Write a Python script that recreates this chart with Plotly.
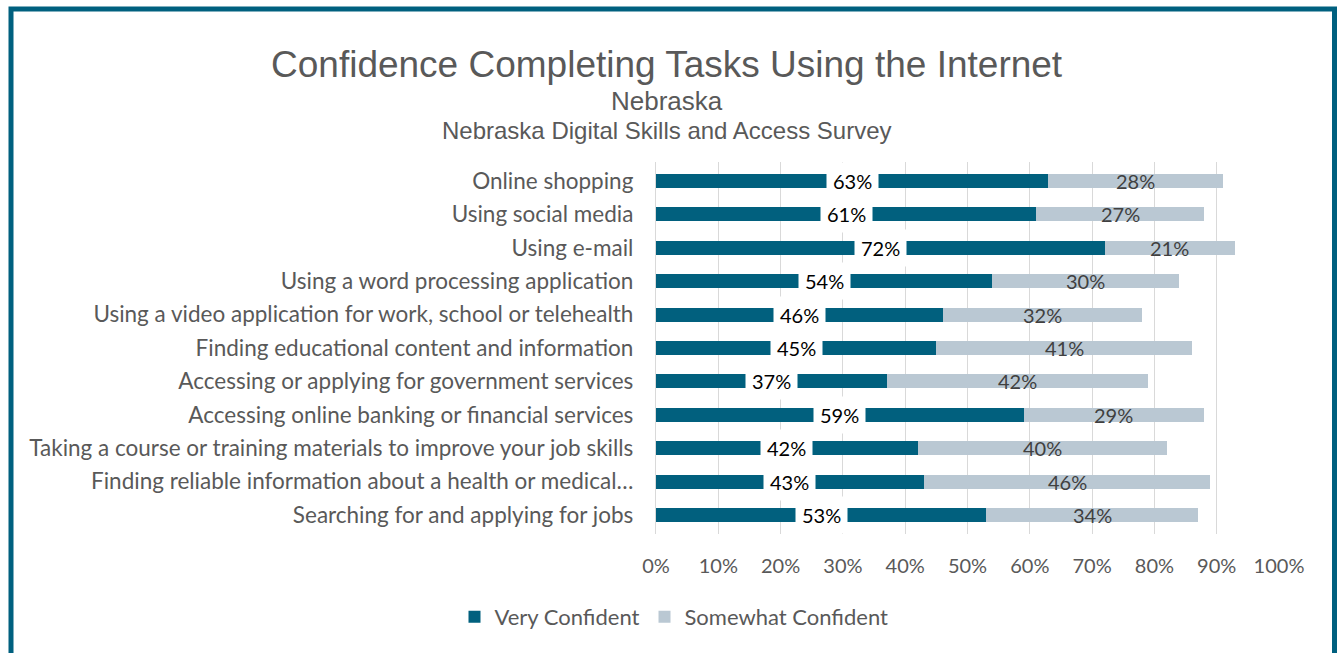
import plotly.graph_objects as go

categories = [
    "Online shopping",
    "Using social media",
    "Using e-mail",
    "Using a word processing application",
    "Using a video application for work, school or telehealth",
    "Finding educational content and information",
    "Accessing or applying for government services",
    "Accessing online banking or financial services",
    "Taking a course or training materials to improve your job skills",
    "Finding reliable information about a health or medical…",
    "Searching for and applying for jobs",
]
very_confident = [63, 61, 72, 54, 46, 45, 37, 59, 42, 43, 53]
somewhat_confident = [28, 27, 21, 30, 32, 41, 42, 29, 40, 46, 34]
x_ticks = [0, 10, 20, 30, 40, 50, 60, 70, 80, 90, 100]
x_tick_labels = [f"{t}%" for t in x_ticks]

W, H = 1342, 653
# pixel positions of plot area
PL, PR, PT, PB = 656, 1279, 162, 534
ML, MR, MT, MB = PL, W - PR, PT, H - PB
PW, PH = PR - PL, PB - PT

def px(xp):
    return (xp - PL) / PW

def py(yp):
    return (PB - yp) / PH

DARK = "#01607E"
LIGHT = "#BAC8D3"
GRAY = "#595959"
LBL_FONT = "Lato, Carlito, Calibri, sans-serif"
TITLE_FONT = "Liberation Sans, Arial, sans-serif"

fig = go.Figure()
fig.add_trace(go.Bar(
    y=categories, x=very_confident, orientation="h", name="Very Confident",
    marker=dict(color=DARK, line=dict(width=0)),
))
fig.add_trace(go.Bar(
    y=categories, x=somewhat_confident, orientation="h", name="Somewhat Confident",
    marker=dict(color=LIGHT, line=dict(width=0)),
))

annotations = []
for c, v in zip(categories, very_confident):
    annotations.append(dict(
        x=v / 2, y=c, xref="x", yref="y", text=f"{v}%", showarrow=False,
        font=dict(family=LBL_FONT, size=20, color="#000000"),
        bgcolor="white", borderpad=6, xanchor="center", yanchor="middle",
    ))
for c, v, s in zip(categories, very_confident, somewhat_confident):
    annotations.append(dict(
        x=v + s / 2, y=c, xref="x", yref="y", text=f"{s}%", showarrow=False,
        font=dict(family=LBL_FONT, size=20, color="#404040"),
        xanchor="center", yanchor="middle",
    ))

# titles
annotations.append(dict(x=px(667), y=py(64), xref="paper", yref="paper",
                        text="Confidence Completing Tasks Using the Internet", showarrow=False,
                        font=dict(family=TITLE_FONT, size=37, color=GRAY),
                        xanchor="center", yanchor="middle"))
annotations.append(dict(x=px(667), y=py(101), xref="paper", yref="paper",
                        text="Nebraska", showarrow=False,
                        font=dict(family=TITLE_FONT, size=26, color=GRAY),
                        xanchor="center", yanchor="middle"))
annotations.append(dict(x=px(667), y=py(130), xref="paper", yref="paper",
                        text="Nebraska Digital Skills and Access Survey", showarrow=False,
                        font=dict(family=TITLE_FONT, size=24, color=GRAY),
                        xanchor="center", yanchor="middle"))

shapes = [dict(type="rect", xref="paper", yref="paper",
               x0=px(11), x1=px(1334.5), y0=py(720), y1=py(9),
               line=dict(color="#00607F", width=5), fillcolor="rgba(0,0,0,0)", layer="above")]

fig.update_layout(
    width=W, height=H,
    barmode="stack", bargap=0.58,
    paper_bgcolor="white", plot_bgcolor="white",
    margin=dict(l=ML, r=MR, t=MT, b=MB, autoexpand=False),
    annotations=annotations, shapes=shapes,
    showlegend=True,
    legend=dict(orientation="h", x=px(674), xanchor="center", y=py(617), yanchor="middle",
                font=dict(family=LBL_FONT, size=22, color=GRAY), itemwidth=30,
                traceorder="normal"),
    xaxis=dict(range=[0, 100], tickvals=x_ticks, ticktext=x_tick_labels,
               showgrid=True, gridcolor="#D9D9D9", gridwidth=1.3, zeroline=False,
               showline=False, ticks="", ticklabelstandoff=18,
               tickfont=dict(family=LBL_FONT, size=20, color=GRAY), fixedrange=True),
    yaxis=dict(autorange="reversed", showgrid=False, zeroline=False, ticks="",
               ticklabelstandoff=17, showline=True, linecolor="#D9D9D9", linewidth=1.3,
               tickfont=dict(family=LBL_FONT, size=22.5, color=GRAY), fixedrange=True),
    hovermode=False,
)

fig.write_html(
    "out.html",
    config={"displayModeBar": False},
    post_script="document.body.style.margin='0px';document.body.style.overflow='hidden';",
)
